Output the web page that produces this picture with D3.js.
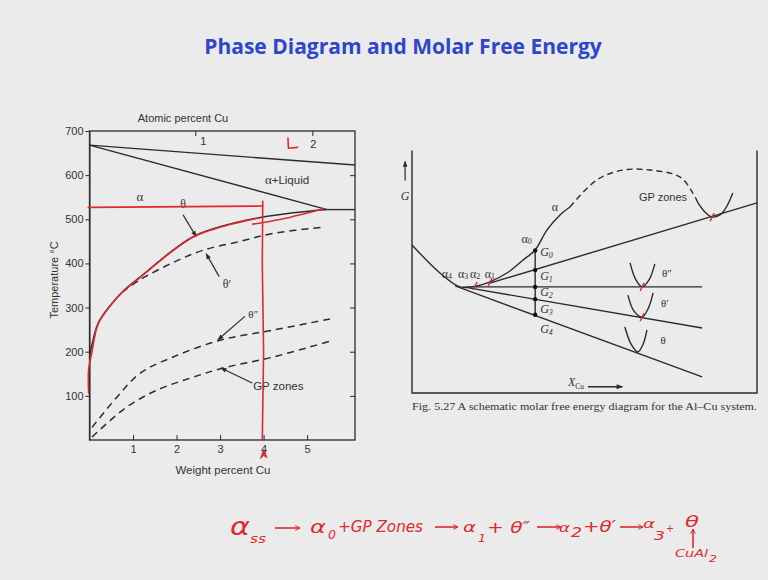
<!DOCTYPE html>
<html>
<head>
<meta charset="utf-8">
<script src="https://cdn.jsdelivr.net/npm/d3@7"></script>
<style>
  body { margin: 0; background: #ebebeb; }
  svg { display: block; }
  .tick text { font-family: "Liberation Sans", Arial, sans-serif; font-size: 11px; fill: #333; }
</style>
</head>
<body>
<svg id="slide" width="768" height="580"></svg>
<script>
"use strict";

// ---- phase diagram data (weight percent Cu, temperature in °C) ----
const tempTicks = [100, 200, 300, 400, 500, 600, 700];
const wtTicks = [1, 2, 3, 4, 5];
const atomicTicks = [2.43, 5.12];
const atomicLabels = ["1", "2"];

const liquidus = [[0, 668], [6.1, 623]];
const solidus = [[0, 668], [5.46, 522]];
const eutectic = [[5.46, 522], [6.1, 522]];
const solvusTheta = [[0.01, 192], [0.2, 265], [0.52, 310], [0.77, 337], [1.16, 369], [1.92, 430], [2.43, 463], [3.76, 501], [5.46, 522]];
const solvusThetaP = [[0.75, 335], [1.16, 363], [1.92, 402], [2.61, 430], [3.46, 450], [4.22, 468], [5.37, 482]];
const solvusThetaPP = [[0.06, 29], [0.63, 97], [1.16, 151], [1.92, 188], [3.0, 226], [4.22, 249], [5.57, 275]];
const solvusGP = [[0.06, 7], [0.86, 75], [1.55, 113], [2.31, 140], [3.07, 163], [4.22, 188], [5.6, 226]];

// red pen marks on the phase diagram
const redAgeing = [[-0.03, 527], [3.98, 530]];
const redAlloy = [[3.98, 541], [3.97, 400], [4.0, 200], [3.97, 0]];
const redSolvus = [[-0.02, 106], [-0.02, 160], [0.05, 196], [0.2, 263], [0.52, 309], [0.77, 336], [1.16, 368], [1.92, 429], [2.43, 462], [3.3, 490], [3.9, 503]];
const redSolvus2 = [[3.75, 489], [4.4, 500], [5.37, 524]];
const redL = [[4.56, 684], [4.57, 661], [4.78, 663]];

// ---- molar free energy schematic (X_Cu 0-100, G arbitrary 0-100) ----
const alphaSolid = [[0, 61.7], [8.1, 50], [13.9, 44.2], [18.8, 44.6], [22.6, 46.3], [27.5, 50], [32.2, 55.4], [35.7, 59.6], [39.1, 67.9], [42.9, 74.2], [45.8, 77.5]];
const alphaDashed = [[45.8, 77.5], [53.6, 88.8], [61.2, 92.9], [69, 92.9], [77.7, 90], [81.4, 83.3], [82.9, 79.2]];
const gpCurve = [[82.9, 79.2], [84.9, 75.4], [87, 73.3], [89.9, 75], [93, 83.3]];
const thetaPPCurve = [[63.2, 54.2], [64.9, 47.1], [66.7, 44.2], [68.7, 47.1], [70.4, 53.8]];
const thetaPCurve = [[62.6, 40.8], [64.3, 34.2], [66.7, 31.7], [68.4, 35], [69.9, 41.7]];
const thetaCurve = [[61.7, 27.5], [63.5, 20.4], [65.5, 17.1], [67, 20.4], [68.1, 26.3]];
const tangentGP = [[22.6, 45.8], [100, 79.2]];
const tangentThetaPP = [[15.9, 44.2], [84.1, 44.2]];
const tangentThetaP = [[14.8, 44.2], [84.1, 27.1]];
const tangentTheta = [[12.5, 44.6], [84.1, 6.7]];
const xAlloy = 35.7;
const gLevels = [59.4, 51.2, 44.2, 39.1, 32.6];
const gLabels = ["G0", "G1", "G2", "G3", "G4"];
const gLabelLevels = [58.3, 48.3, 41.7, 34.6, 26.3];
const alphaLabelX = [10.1, 14.8, 18.3, 22.6];
const alphaLabelSubs = ["4", "3", "2", "1"];
const tangentMarks = [[18.3, 44.6], [22.6, 46.2], [87, 73.3], [66.7, 44.2], [66.7, 31.6]];

const svg = d3.select("#slide");
const ink = "#2b2b2b";
const red = "#dd2a2e";
const sans = '"Liberation Sans", Arial, sans-serif';
const serif = '"Liberation Serif", "Times New Roman", serif';

// title
svg.append("text")
  .attr("x", 403).attr("y", 54)
  .attr("text-anchor", "middle")
  .attr("font-family", '"Open Sans", sans-serif')
  .attr("font-weight", "bold")
  .attr("font-size", 21)
  .attr("fill", "#2e46cc")
  .text("Phase Diagram and Molar Free Energy");

const defs = svg.append("defs");
defs.append("marker")
  .attr("id", "head").attr("viewBox", "0 -5 10 10")
  .attr("refX", 9).attr("refY", 0)
  .attr("markerWidth", 7).attr("markerHeight", 5).attr("orient", "auto")
  .append("path").attr("d", "M0,-4L10,0L0,4Z").attr("fill", ink);
defs.append("marker")
  .attr("id", "penhead").attr("viewBox", "0 -5 10 10")
  .attr("refX", 9).attr("refY", 0)
  .attr("markerWidth", 6).attr("markerHeight", 6).attr("orient", "auto")
  .attr("markerUnits", "userSpaceOnUse")
  .append("path").attr("d", "M1,-4L9,0L1,4").attr("fill", "none").attr("stroke", red).attr("stroke-width", 1.6);

// =================== left: phase diagram ===================
const x = d3.scaleLinear([0, 6.1], [89.5, 355]);
const y = d3.scaleLinear([0, 700], [440, 131]);
const line = d3.line().x(d => x(d[0])).y(d => y(d[1]));
const curve = d3.line().x(d => x(d[0])).y(d => y(d[1])).curve(d3.curveCatmullRom.alpha(0.5));

const pd = svg.append("g");

pd.append("rect")
  .attr("x", x(0)).attr("y", y(700))
  .attr("width", x(6.1) - x(0)).attr("height", y(0) - y(700))
  .attr("fill", "none").attr("stroke", ink).attr("stroke-width", 1.3);

pd.append("g")
  .attr("transform", `translate(${x(0)},0)`)
  .call(d3.axisLeft(y).tickValues(tempTicks).tickSize(4).tickSizeOuter(0).tickPadding(2))
  .call(g => g.selectAll("line, path").attr("stroke", ink));

pd.append("g")
  .attr("transform", `translate(${x(6.1)},0)`)
  .call(d3.axisLeft(y).tickValues(tempTicks.slice(0, 6)).tickSize(5).tickSizeOuter(0).tickFormat(""))
  .call(g => g.select(".domain").remove())
  .call(g => g.selectAll("line").attr("stroke", ink));

pd.append("g")
  .attr("transform", `translate(0,${y(0)})`)
  .call(d3.axisBottom(x).tickValues(wtTicks).tickSize(-5).tickSizeOuter(0).tickPadding(5).tickFormat(d3.format("d")))
  .call(g => g.select(".domain").remove())
  .call(g => g.selectAll("line").attr("stroke", ink))
  .call(g => g.selectAll("text").attr("font-size", 12));

const topAxis = pd.append("g")
  .attr("transform", `translate(0,${y(700)})`)
  .call(d3.axisBottom(x).tickValues(atomicTicks).tickSize(5).tickSizeOuter(0).tickFormat(""))
  .call(g => g.select(".domain").remove())
  .call(g => g.selectAll("line").attr("stroke", ink));
topAxis.selectAll(".alab").data(atomicTicks).enter().append("text")
  .attr("x", (d, i) => x(d) + (i === 0 ? 8 : 1))
  .attr("y", (d, i) => i === 0 ? 14 : 17)
  .attr("text-anchor", "middle")
  .attr("font-family", sans).attr("font-size", 11).attr("fill", "#333")
  .text((d, i) => atomicLabels[i]);

pd.append("text").attr("x", 183).attr("y", 122).attr("text-anchor", "middle")
  .attr("font-family", sans).attr("font-size", 11).attr("fill", "#333")
  .text("Atomic percent Cu");
pd.append("text").attr("x", 223).attr("y", 474).attr("text-anchor", "middle")
  .attr("font-family", sans).attr("font-size", 11.5).attr("fill", "#333")
  .text("Weight percent Cu");
pd.append("text").attr("transform", "translate(58,280) rotate(-90)").attr("text-anchor", "middle")
  .attr("font-family", sans).attr("font-size", 11).attr("fill", "#333")
  .text("Temperature °C");

[liquidus, solidus, eutectic].forEach(d => {
  pd.append("path").attr("d", line(d)).attr("fill", "none").attr("stroke", ink).attr("stroke-width", 1.4);
});
pd.append("path").attr("d", curve(solvusTheta)).attr("fill", "none").attr("stroke", ink).attr("stroke-width", 1.5);
[solvusThetaP, solvusThetaPP, solvusGP].forEach(d => {
  pd.append("path").attr("d", curve(d)).attr("fill", "none").attr("stroke", ink)
    .attr("stroke-width", 1.5).attr("stroke-dasharray", "7,5");
});

const pdArrows = [
  [[2.15, 510], [2.45, 461]],
  [[2.98, 370], [2.68, 422]],
  [[3.57, 280], [2.95, 227]],
  [[3.74, 129], [3.02, 163]]
];
pdArrows.forEach(d => {
  pd.append("path").attr("d", line(d)).attr("stroke", ink).attr("stroke-width", 1.2)
    .attr("marker-end", "url(#head)");
});

const greek = (g, px, py, txt, size) => g.append("text").attr("x", px).attr("y", py)
  .attr("text-anchor", "middle").attr("dominant-baseline", "middle")
  .attr("font-family", serif).attr("font-size", size || 12).attr("fill", "#333").text(txt);

greek(pd, x(1.16), y(549), "α", 13);
greek(pd, x(2.15), y(531), "θ", 12);
greek(pd, x(3.16), y(350), "θ′", 12);
greek(pd, x(3.76), y(283), "θ″", 11);
pd.append("text").attr("x", x(4.03)).attr("y", y(587)).attr("dominant-baseline", "middle")
  .attr("font-family", sans).attr("font-size", 11.5).attr("fill", "#333")
  .html('<tspan font-family=\'"Liberation Serif", serif\' font-size="13">α</tspan>+Liquid');
pd.append("text").attr("x", x(3.76)).attr("y", y(120)).attr("dominant-baseline", "middle")
  .attr("font-family", sans).attr("font-size", 11.5).attr("fill", "#333").text("GP zones");

// red pen marks
const redPen = (g, d, gen) => g.append("path").attr("d", gen(d)).attr("fill", "none")
  .attr("stroke", red).attr("stroke-width", 1.6).attr("stroke-linecap", "round").attr("stroke-linejoin", "round");
redPen(pd, redAgeing, line);
redPen(pd, redAlloy, line);
redPen(pd, redSolvus, curve);
redPen(pd, redSolvus2, curve);
redPen(pd, redL, line);
pd.append("path")
  .attr("d", line([[3.93, -42], [4.0, -22], [4.08, -40], [4.0, -35], [3.93, -42]]))
  .attr("fill", red).attr("stroke", red).attr("stroke-width", 1);

// =================== right: molar free energy ===================
const xs = d3.scaleLinear([0, 100], [412, 757]);
const gs = d3.scaleLinear([0, 100], [393, 153]);
const gline = d3.line().x(d => xs(d[0])).y(d => gs(d[1]));
const gcurve = d3.line().x(d => xs(d[0])).y(d => gs(d[1])).curve(d3.curveCatmullRom);

const fe = svg.append("g");
fe.append("path")
  .attr("d", gline([[0, 101], [0, 0], [100, 0], [100, 101]]))
  .attr("fill", "none").attr("stroke", ink).attr("stroke-width", 1.4);

const stroke = (d, gen, dash) => fe.append("path").attr("d", gen(d)).attr("fill", "none")
  .attr("stroke", ink).attr("stroke-width", 1.4).attr("stroke-dasharray", dash || null);
stroke(alphaSolid, gcurve);
stroke(alphaDashed, gcurve, "6,4");
stroke(gpCurve, gcurve);
stroke(thetaPPCurve, gcurve);
stroke(thetaPCurve, gcurve);
stroke(thetaCurve, gcurve);
stroke(tangentGP, gline);
stroke(tangentThetaPP, gline);
stroke(tangentThetaP, gline);
stroke(tangentTheta, gline);
stroke([[xAlloy, gLevels[0]], [xAlloy, gLevels[4]]], gline);

fe.selectAll(".gdot").data(gLevels).enter().append("circle")
  .attr("cx", xs(xAlloy)).attr("cy", d => gs(d)).attr("r", 2.2).attr("fill", "#111");

fe.selectAll(".glab").data(gLabels).enter().append("text")
  .attr("x", xs(xAlloy) + 5).attr("y", (d, i) => gs(gLabelLevels[i]))
  .attr("dominant-baseline", "middle")
  .attr("font-family", serif).attr("font-style", "italic").attr("font-size", 12).attr("fill", "#333")
  .html(d => `${d[0]}<tspan font-size="8" dy="3">${d[1]}</tspan>`);

fe.selectAll(".alab").data(alphaLabelX).enter().append("text")
  .attr("x", d => xs(d)).attr("y", gs(49.2))
  .attr("text-anchor", "middle").attr("dominant-baseline", "middle")
  .attr("font-family", serif).attr("font-size", 12).attr("fill", "#333")
  .html((d, i) => `α<tspan font-size="8" dy="2">${alphaLabelSubs[i]}</tspan>`);

fe.append("text").attr("x", xs(33.2)).attr("y", gs(63.8)).attr("text-anchor", "middle")
  .attr("dominant-baseline", "middle")
  .attr("font-family", serif).attr("font-size", 12).attr("fill", "#333")
  .html('α<tspan font-size="8" dy="2">0</tspan>');
greek(fe, xs(41.4), gs(77), "α", 12);
greek(fe, xs(73.9), gs(49.2), "θ″", 11);
greek(fe, xs(73.3), gs(36.7), "θ′", 11);
greek(fe, xs(72.8), gs(21.3), "θ", 11);
fe.append("text").attr("x", xs(65.8)).attr("y", gs(81.2)).attr("dominant-baseline", "middle")
  .attr("font-family", sans).attr("font-size", 11).attr("fill", "#333").text("GP zones");

// G axis arrow
fe.append("path").attr("d", gline([[-2, 88.5], [-2, 96.5]])).attr("stroke", ink).attr("stroke-width", 1.2)
  .attr("marker-end", "url(#head)");
fe.append("text").attr("x", xs(-2)).attr("y", gs(81.5)).attr("text-anchor", "middle")
  .attr("dominant-baseline", "middle")
  .attr("font-family", serif).attr("font-style", "italic").attr("font-size", 12).attr("fill", "#333").text("G");

// X_Cu arrow
fe.append("text").attr("x", xs(45.2)).attr("y", gs(2.8))
  .attr("font-family", serif).attr("font-style", "italic").attr("font-size", 12).attr("fill", "#333")
  .html('X<tspan font-size="7.5" dy="3" font-style="normal">Cu</tspan>');
fe.append("path").attr("d", gline([[51, 2.6], [61, 2.6]])).attr("stroke", ink).attr("stroke-width", 1.3)
  .attr("marker-end", "url(#head)");

// red tangency ticks
fe.selectAll(".tm").data(tangentMarks).enter().append("path")
  .attr("d", d => `M${xs(d[0]) - 2},${gs(d[1]) + 4}L${xs(d[0]) + 2},${gs(d[1]) - 4}`)
  .attr("stroke", red).attr("stroke-width", 1.4);

fe.append("text").attr("x", xs(0)).attr("y", 410)
  .attr("textLength", xs(100) - xs(0)).attr("lengthAdjust", "spacingAndGlyphs")
  .attr("font-family", serif).attr("font-size", 9.5).attr("fill", "#333")
  .text("Fig. 5.27   A schematic molar free energy diagram for the Al–Cu system.");

// =================== handwritten reaction sequence ===================
const hw = svg.append("g").attr("fill", red).attr("font-family", '"DejaVu Sans", sans-serif')
  .attr("font-style", "italic");
// [text, x, baseline, size, width]
const pieces = [
  ["α", 230, 535, 24, 20], ["ss", 250, 543, 12, 16],
  ["α", 310, 533, 17, 16], ["0", 328, 539, 12, 8], ["+GP Zones", 338, 532, 15, 85],
  ["α", 463, 532, 14, 13], ["1", 478, 542, 11, 8], ["+ θ″", 487, 533, 16, 43],
  ["α", 559, 532, 12, 11], ["2", 571, 537, 14, 11], ["+θ′", 583, 532, 15, 33],
  ["α", 643, 528, 12, 12], ["3", 654, 540, 13, 11], ["+", 666, 532, 11, 8],
  ["θ", 685, 527, 15, 14], ["CuAl", 675, 557, 10, 33], ["2", 709, 562, 9, 8]
];
hw.selectAll("text").data(pieces).enter().append("text")
  .attr("x", d => d[1]).attr("y", d => d[2]).attr("font-size", d => d[3])
  .attr("textLength", d => d[4]).attr("lengthAdjust", "spacingAndGlyphs")
  .text(d => d[0]);
const penArrows = [[275, 528, 300, 528], [435, 527, 458, 527], [537, 527, 561, 527], [620, 527, 643, 527], [693, 548, 693, 529]];
hw.selectAll("path").data(penArrows).enter().append("path")
  .attr("d", d => `M${d[0]},${d[1]}L${d[2]},${d[3]}`)
  .attr("stroke", red).attr("stroke-width", 1.6).attr("fill", "none")
  .attr("marker-end", "url(#penhead)");
</script>
</body>
</html>
